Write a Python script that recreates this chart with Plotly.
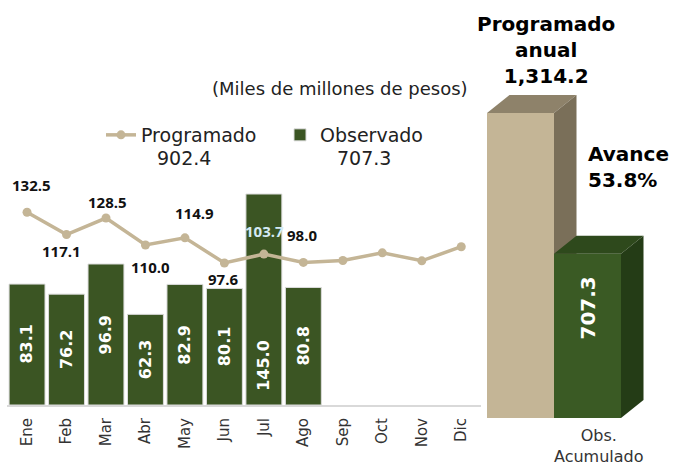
import plotly.graph_objects as go

# ---------------- data ----------------
months = ["Ene", "Feb", "Mar", "Abr", "May", "Jun", "Jul", "Ago", "Sep", "Oct", "Nov", "Dic"]
programado = [132.5, 117.1, 128.5, 110.0, 114.9, 97.6, 103.7, 98.0, 99.3, 104.6, 99.1, 108.8]
observado = [83.1, 76.2, 96.9, 62.3, 82.9, 80.1, 145.0, 80.8]
programado_acum = 902.4
observado_acum = 707.3
programado_anual = 1314.2
n_labeled = len(observado)

# ---------------- styles ----------------
W, H = 678, 466
TAN = "#c4b596"
TAN_TOP = "#8e826a"
TAN_SIDE = "#7a6f59"
GREEN = "#3b5523"
GREEN3D = "#3a5a24"
GREEN_TOP = "#2e491c"
GREEN_SIDE = "#243c16"
FONT = "DejaVu Sans"
NUMFONT = "Open Sans"

def fx(p):
    return p / W

def fy(p):
    return 1 - p / H

# label offsets for the programado line labels (pixels)
lab_dx = [4, -5, 2, 5, 10, -1, 1, -1]
lab_dy = [27, -16, 16, -22, 25, -16, 23, 27]
lab_col = ["#111111"] * 6 + ["#d4eaf4", "#111111"]
# bar-label vertical position as fraction of bar height
bar_lab_frac = [0.5, 0.5, 0.5, 0.5, 0.5, 0.5, 0.19, 0.5]

fig = go.Figure()

fig.add_trace(go.Bar(
    x=months[:len(observado)], y=observado, name="Observado",
    marker=dict(color=GREEN, line=dict(color="#dcdcdc", width=1)),
    legendrank=2, hoverinfo="x+y",
))
fig.add_trace(go.Scatter(
    x=months, y=programado, name="Programado", mode="lines+markers",
    line=dict(color=TAN, width=3.5), marker=dict(color=TAN, size=9),
    legendrank=1,
))

annotations = []
for i in range(n_labeled):
    annotations.append(dict(
        x=months[i], y=programado[i], xref="x", yref="y",
        text=f"{programado[i]:.1f}", showarrow=False,
        xshift=lab_dx[i], yshift=lab_dy[i],
        font=dict(family=NUMFONT, size=15, color=lab_col[i], weight="bold"),
    ))
for i, v in enumerate(observado):
    annotations.append(dict(
        x=months[i], y=v * bar_lab_frac[i], xref="x", yref="y",
        text=f"{v:.1f}", showarrow=False, textangle=-90,
        font=dict(family=FONT, size=16, color="white", weight="bold"),
    ))

# ---------------- right: 3D accumulated bars ----------------
fig.add_trace(go.Bar(
    x=[0, 1], y=[programado_anual, observado_acum], width=1,
    marker=dict(color=[TAN, GREEN3D], line=dict(width=0)),
    xaxis="x2", yaxis="y2", showlegend=False, hoverinfo="y",
))

dx, dy = 0.336, 77.6
P, O = programado_anual, observado_acum

def poly(pts):
    return "M " + " L ".join(f"{x},{y}" for x, y in pts) + " Z"

shapes = [
    dict(type="path", xref="x2", yref="y2", layer="below", line=dict(width=0), fillcolor=TAN_TOP,
         path=poly([(-0.5, P), (0.5, P), (0.5 + dx, P + dy), (-0.5 + dx, P + dy)])),
    dict(type="path", xref="x2", yref="y2", layer="below", line=dict(width=0), fillcolor=TAN_SIDE,
         path=poly([(0.5, P), (0.5 + dx, P + dy), (0.5 + dx, dy), (0.5, 0)])),
    dict(type="path", xref="x2", yref="y2", layer="above", line=dict(width=0), fillcolor=GREEN_TOP,
         path=poly([(0.5, O), (1.5, O), (1.5 + dx, O + dy), (0.5 + dx, O + dy)])),
    dict(type="path", xref="x2", yref="y2", layer="above", line=dict(width=0), fillcolor=GREEN_SIDE,
         path=poly([(1.5, O), (1.5 + dx, O + dy), (1.5 + dx, dy), (1.5, 0)])),
]

annotations += [
    dict(x=1, y=O * 0.67, xref="x2", yref="y2", text=f"{O:.1f}", showarrow=False, textangle=-90,
         font=dict(family=FONT, size=20, color="white", weight="bold")),
    dict(x=fx(546), y=fy(50), xref="paper", yref="paper", xanchor="center", yanchor="middle",
         text=f"Programado<br>anual<br>{programado_anual:,.1f}", showarrow=False,
         font=dict(family=FONT, size=20, color="#000000", weight="bold")),
    dict(x=fx(586), y=fy(167), xref="paper", yref="paper", xanchor="left", yanchor="middle", align="left",
         text=f"Avance<br>{100 * observado_acum / programado_anual:.1f}%", showarrow=False,
         font=dict(family=FONT, size=20, color="#000000", weight="bold")),
    dict(x=fx(340), y=fy(88), xref="paper", yref="paper", xanchor="center", yanchor="middle",
         text="(Miles de millones de pesos)", showarrow=False,
         font=dict(family=FONT, size=18, color="#222222")),
    dict(x=fx(184), y=fy(158), xref="paper", yref="paper", xanchor="center", yanchor="middle",
         text=f"{programado_acum:.1f}", showarrow=False,
         font=dict(family=FONT, size=19, color="#222222")),
    dict(x=fx(364), y=fy(158), xref="paper", yref="paper", xanchor="center", yanchor="middle",
         text=f"{observado_acum:.1f}", showarrow=False,
         font=dict(family=FONT, size=19, color="#222222")),
]

fig.update_layout(
    width=W, height=H,
    margin=dict(l=0, r=0, t=0, b=0),
    paper_bgcolor="white", plot_bgcolor="rgba(0,0,0,0)",
    bargap=0.09,
    showlegend=True,
    legend=dict(orientation="h", x=fx(101), y=fy(116), xanchor="left", yanchor="top",
                entrywidth=134, font=dict(family=FONT, size=19, color="#222222"),
                bgcolor="rgba(0,0,0,0)", traceorder="normal"),
    xaxis=dict(domain=[fx(7.3), fx(481)], type="category", categoryorder="array", categoryarray=months,
               range=[-0.5, 11.5], showline=True, linecolor="#d9d9d9", linewidth=2,
               showgrid=False, ticks="", tickangle=-90, ticklabelstandoff=5,
               tickfont=dict(family=FONT, size=15, color="#333333"), zeroline=False),
    yaxis=dict(domain=[fy(405), fy(114)], range=[0, 200], visible=False),
    xaxis2=dict(domain=[fx(487), fx(650)], anchor="y2", range=[-0.5, -0.5 + 163 / 67],
                tickvals=[1 + dx / 2], ticktext=["Obs.<br>Acumulado"], showgrid=False, zeroline=False,
                showline=False, ticks="", ticklabelstandoff=6,
                tickfont=dict(family=FONT, size=16, color="#333333")),
    yaxis2=dict(domain=[fy(418), fy(93)], range=[0, 1400], visible=False, anchor="x2"),
    shapes=shapes,
    annotations=annotations,
    font=dict(family=FONT),
)

fig.write_html("out.html", config={"displayModeBar": False},
               post_script="document.body.style.margin='0';document.body.style.overflow='hidden';")
